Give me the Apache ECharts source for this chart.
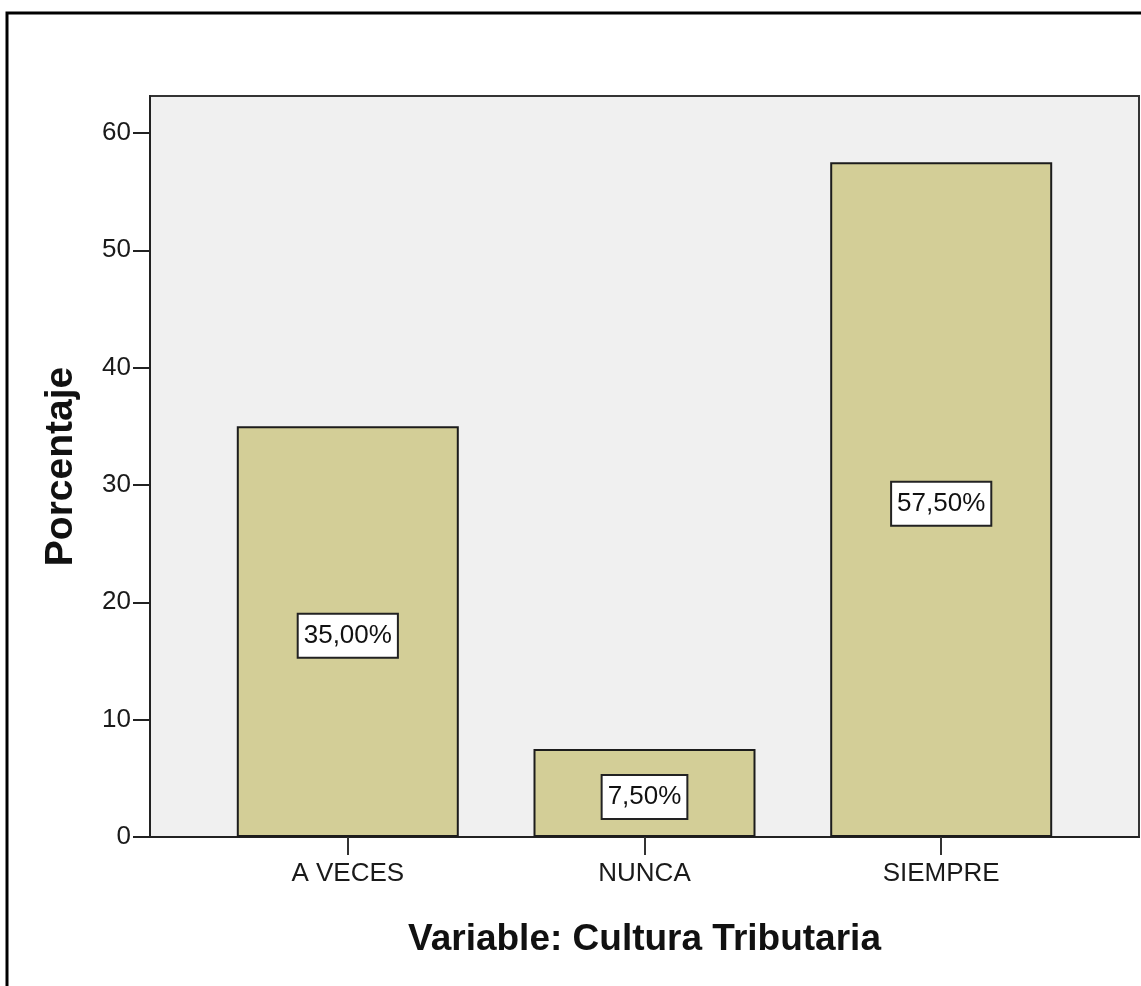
<!DOCTYPE html>
<html>
<head>
<meta charset="utf-8">
<script src="https://cdn.jsdelivr.net/npm/echarts@6/dist/echarts.min.js"></script>
<style>
html,body{margin:0;padding:0;background:#fff;}
#chart{width:1141px;height:986px;}
</style>
</head>
<body>
<div id="chart"></div>
<script>
const categories = ['A VECES', 'NUNCA', 'SIEMPRE'];
const percentages = [35.0, 7.5, 57.5];
const yTicks = [0, 10, 20, 30, 40, 50, 60];
const xTitle = 'Variable: Cultura Tributaria';
const yTitle = 'Porcentaje';

const chart = echarts.init(document.getElementById('chart'), null, {renderer: 'canvas'});
const fontFam = '"Liberation Sans", Arial, sans-serif';
const catIdx = categories.map((c, i) => i);

chart.setOption({
  animation: false,
  backgroundColor: '#ffffff',
  graphic: [{
    type: 'rect',
    shape: {x: 7, y: 13, width: 1200, height: 1050},
    style: {fill: 'none', stroke: '#000', lineWidth: 3},
    silent: true,
    z: 100
  }],
  grid: {
    left: 150, top: 96, width: 989, height: 741,
    show: true, backgroundColor: '#f0f0f0', borderColor: '#333', borderWidth: 2
  },
  xAxis: {
    type: 'value',
    min: -2/3, max: 8/3,
    splitLine: {show: false},
    axisLine: {show: true, onZero: false, lineStyle: {color: '#222', width: 2}},
    axisTick: {show: true, length: 18, inside: false, customValues: catIdx, lineStyle: {color: '#333', width: 2}},
    axisLabel: {
      customValues: catIdx,
      formatter: v => categories[Math.round(v)] || '',
      fontFamily: fontFam, fontSize: 26, color: '#1a1a1a', margin: 24
    },
    name: xTitle,
    nameLocation: 'middle',
    nameGap: 84,
    nameTextStyle: {fontFamily: fontFam, fontSize: 37, fontWeight: 'bold', color: '#111'}
  },
  yAxis: {
    type: 'value',
    min: 0, max: 63.15,
    splitLine: {show: false},
    axisLine: {show: true, onZero: false, lineStyle: {color: '#222', width: 2}},
    axisTick: {show: true, length: 17, customValues: yTicks, lineStyle: {color: '#222', width: 2}},
    axisLabel: {
      customValues: yTicks,
      fontFamily: fontFam, fontSize: 26, color: '#1a1a1a', margin: 19
    },
    name: yTitle,
    nameLocation: 'middle',
    nameGap: 69,
    nameTextStyle: {fontFamily: fontFam, fontSize: 39, fontWeight: 'bold', color: '#111'}
  },
  series: [{
    type: 'bar',
    data: percentages.map((v, i) => [i, v]),
    barWidth: 222,
    itemStyle: {color: '#d3ce97', borderColor: '#1c1c1c', borderWidth: 2},
    label: {
      show: true,
      position: 'inside',
      offset: [0, 4],
      formatter: p => p.value[1].toFixed(2).replace('.', ',') + '%',
      fontFamily: fontFam, fontSize: 26, color: '#111',
      backgroundColor: '#ffffff', borderColor: '#222', borderWidth: 2,
      padding: [9, 5, 7, 5]
    }
  }]
});
</script>
</body>
</html>
